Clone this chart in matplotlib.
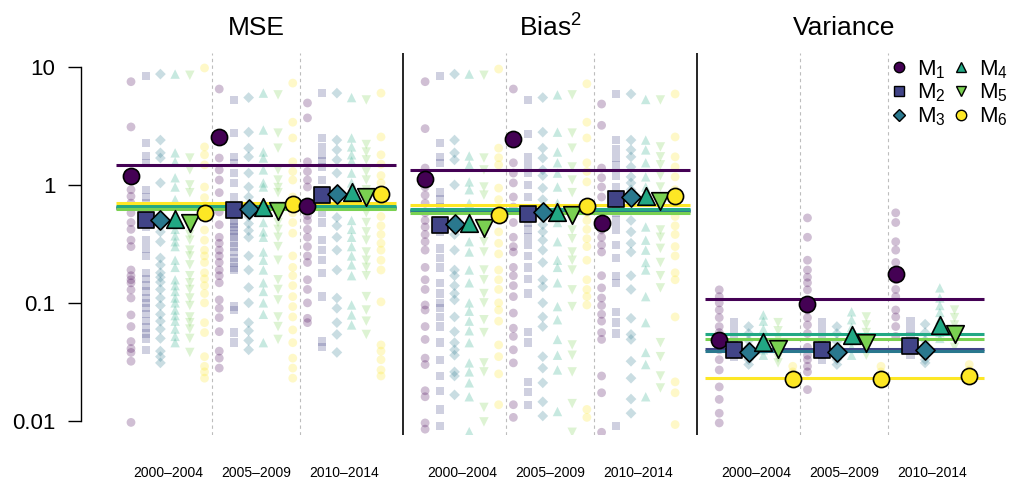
import matplotlib
matplotlib.use("Agg")
import matplotlib.pyplot as plt
from matplotlib.transforms import blended_transform_factory
from matplotlib.lines import Line2D
from matplotlib.ticker import FixedLocator, FixedFormatter, NullLocator

plt.rcParams['font.family'] = ['Liberation Sans', 'DejaVu Sans']
plt.rcParams['mathtext.fontset'] = 'custom'
plt.rcParams['mathtext.rm'] = 'Liberation Sans'
plt.rcParams['mathtext.it'] = 'Liberation Sans:italic'

methods = ["M$_1$", "M$_2$", "M$_3$", "M$_4$", "M$_5$", "M$_6$"]
colors = ["#440154", "#414487", "#2A788E", "#22A884", "#7AD151", "#FDE725"]
markers = ["o", "s", "D", "^", "v", "o"]
periods = ["2000\u20132004", "2005\u20132009", "2010\u20132014"]
panel_titles = ["MSE", "Bias$^2$", "Variance"]

# ---- individual (faint) values: [period][method] ----
mse_points = [
    [
        [7.5, 3.1, 0.91, 0.80, 0.70, 0.58, 0.48, 0.42, 0.34, 0.30, 0.19, 0.17, 0.157, 0.148, 0.129, 0.11, 0.079, 0.063, 0.047, 0.041, 0.038, 0.032, 0.0097],
        [8.4, 2.28, 1.76, 1.54, 0.9, 0.79, 0.70, 0.44, 0.34, 0.29, 0.25, 0.18, 0.16, 0.14, 0.125, 0.11, 0.10, 0.09, 0.08, 0.07, 0.062, 0.055, 0.05, 0.04],
        [8.7, 2.4, 1.87, 1.69, 1.04, 0.48, 0.40, 0.33, 0.24, 0.21, 0.18, 0.165, 0.15, 0.13, 0.11, 0.095, 0.08, 0.07, 0.06, 0.05, 0.039, 0.035, 0.031],
        [8.7, 1.87, 1.57, 1.15, 0.96, 0.75, 0.42, 0.37, 0.33, 0.30, 0.23, 0.2, 0.157, 0.14, 0.125, 0.11, 0.10, 0.087, 0.078, 0.07, 0.06, 0.052, 0.046],
        [8.5, 1.69, 1.34, 1.0, 0.86, 0.38, 0.34, 0.28, 0.25, 0.21, 0.17, 0.148, 0.13, 0.11, 0.095, 0.076, 0.068, 0.06, 0.05, 0.038],
        [9.8, 2.1, 1.8, 1.48, 0.96, 0.78, 0.415, 0.34, 0.28, 0.25, 0.22, 0.18, 0.16, 0.14, 0.12, 0.1, 0.068, 0.056, 0.035, 0.029, 0.026, 0.023],
    ],
    [
        [6.5, 1.69, 1.34, 1.1, 0.86, 0.59, 0.46, 0.36, 0.32, 0.28, 0.25, 0.22, 0.19, 0.17, 0.148, 0.106, 0.09, 0.075, 0.057, 0.039, 0.034, 0.028],
        [5.25, 2.75, 1.73, 1.53, 1.26, 1.04, 0.79, 0.5, 0.47, 0.44, 0.41, 0.38, 0.36, 0.32, 0.3, 0.27, 0.24, 0.22, 0.2, 0.19, 0.093, 0.087, 0.056, 0.046],
        [5.5, 2.8, 2.05, 1.73, 1.26, 0.96, 0.79, 0.54, 0.47, 0.41, 0.36, 0.25, 0.19, 0.135, 0.1, 0.068, 0.058, 0.048, 0.04],
        [6.0, 2.92, 1.9, 1.69, 1.34, 1.04, 0.96, 0.48, 0.4, 0.36, 0.27, 0.23, 0.19, 0.148, 0.125, 0.1, 0.08, 0.046],
        [5.8, 2.75, 2.05, 1.34, 1.1, 0.95, 0.86, 0.48, 0.42, 0.36, 0.3, 0.23, 0.157, 0.13, 0.106, 0.076, 0.063, 0.049],
        [7.3, 3.4, 2.5, 1.57, 1.3, 1.1, 0.79, 0.58, 0.48, 0.39, 0.25, 0.2, 0.17, 0.14, 0.113, 0.093, 0.076, 0.059, 0.046, 0.034, 0.028, 0.023],
    ],
    [
        [4.95, 3.7, 1.57, 1.3, 1.1, 0.96, 0.61, 0.55, 0.5, 0.42, 0.36, 0.3, 0.25, 0.22, 0.157, 0.13, 0.1, 0.074, 0.068],
        [6.0, 2.5, 2.1, 1.8, 1.6, 1.42, 1.1, 0.58, 0.48, 0.34, 0.28, 0.23, 0.18, 0.113, 0.047, 0.042],
        [6.0, 2.4, 1.98, 1.63, 1.26, 0.7, 0.53, 0.45, 0.36, 0.28, 0.19, 0.11, 0.09, 0.068, 0.054, 0.038],
        [5.5, 2.5, 2.1, 1.8, 1.6, 1.26, 1.04, 0.85, 0.75, 0.5, 0.42, 0.36, 0.3, 0.25, 0.21, 0.17, 0.096, 0.079, 0.065],
        [5.25, 2.2, 1.9, 1.63, 1.29, 1.1, 0.91, 0.58, 0.48, 0.4, 0.34, 0.27, 0.23, 0.2, 0.17, 0.113, 0.087, 0.07, 0.054],
        [6.0, 2.55, 1.8, 1.5, 1.2, 1.04, 0.79, 0.54, 0.45, 0.38, 0.32, 0.28, 0.23, 0.19, 0.102, 0.044, 0.039, 0.033, 0.027, 0.024],
    ],
]

bias_points = [
    [
        [7.5, 3.0, 1.39, 0.96, 0.82, 0.7, 0.58, 0.5, 0.44, 0.38, 0.33, 0.28, 0.2, 0.157, 0.13, 0.096, 0.087, 0.063, 0.049, 0.034, 0.03, 0.018, 0.016, 0.0096, 0.0085],
        [8.4, 2.27, 1.73, 1.54, 0.86, 0.75, 0.65, 0.4, 0.29, 0.24, 0.2, 0.148, 0.12, 0.1, 0.09, 0.076, 0.063, 0.046, 0.033, 0.024, 0.018, 0.0125, 0.009],
        [8.7, 2.4, 1.87, 1.63, 1.0, 0.38, 0.28, 0.19, 0.17, 0.14, 0.12, 0.106, 0.076, 0.057, 0.046, 0.04, 0.036, 0.026, 0.024, 0.0166],
        [8.7, 1.76, 1.48, 1.06, 0.91, 0.7, 0.33, 0.27, 0.19, 0.148, 0.1, 0.085, 0.07, 0.058, 0.046, 0.031, 0.026, 0.021, 0.016, 0.0081],
        [8.5, 1.69, 1.34, 0.96, 0.82, 0.33, 0.27, 0.19, 0.157, 0.12, 0.1, 0.072, 0.056, 0.031, 0.026, 0.013, 0.0098],
        [9.6, 2.05, 1.7, 1.48, 0.94, 0.75, 0.4, 0.32, 0.26, 0.19, 0.157, 0.13, 0.1, 0.087, 0.07, 0.044, 0.035, 0.025, 0.0137],
    ],
    [
        [6.5, 1.54, 1.26, 1.04, 0.79, 0.65, 0.48, 0.36, 0.3, 0.27, 0.2, 0.17, 0.14, 0.113, 0.082, 0.061, 0.052, 0.04, 0.031, 0.0137, 0.0107],
        [5.25, 2.7, 1.73, 1.48, 1.26, 1.0, 0.79, 0.48, 0.42, 0.36, 0.31, 0.25, 0.2, 0.16, 0.12, 0.057, 0.046, 0.0214, 0.0176, 0.0137],
        [5.5, 2.8, 2.05, 1.69, 1.34, 1.2, 0.94, 0.75, 0.53, 0.46, 0.4, 0.34, 0.28, 0.22, 0.157, 0.137, 0.1, 0.076, 0.063, 0.035, 0.028, 0.021, 0.0145, 0.011],
        [5.8, 2.8, 1.9, 1.54, 1.26, 0.96, 0.7, 0.48, 0.33, 0.23, 0.2, 0.148, 0.093, 0.072, 0.049, 0.036, 0.027, 0.012],
        [5.8, 2.75, 2.05, 1.42, 1.1, 0.86, 0.415, 0.35, 0.27, 0.23, 0.19, 0.129, 0.093, 0.044, 0.036, 0.026, 0.014, 0.008],
        [7.2, 3.4, 2.5, 1.54, 1.3, 1.06, 0.58, 0.5, 0.42, 0.35, 0.3, 0.23, 0.157, 0.13, 0.113, 0.096, 0.0125, 0.0107],
    ],
    [
        [4.85, 3.2, 1.39, 1.15, 0.96, 0.79, 0.415, 0.36, 0.31, 0.27, 0.17, 0.134, 0.11, 0.095, 0.08, 0.07, 0.056, 0.049, 0.024, 0.0173, 0.008],
        [5.9, 2.4, 2.0, 1.7, 1.48, 1.2, 0.96, 0.65, 0.58, 0.5, 0.42, 0.31, 0.24, 0.17, 0.148, 0.084, 0.068, 0.055, 0.009],
        [5.9, 2.4, 1.98, 1.73, 1.42, 1.17, 1.04, 0.91, 0.5, 0.4, 0.32, 0.27, 0.17, 0.13, 0.074, 0.054, 0.049, 0.032, 0.023, 0.0153, 0.0116],
        [5.3, 2.4, 1.98, 1.54, 1.17, 0.96, 0.44, 0.34, 0.28, 0.22, 0.19, 0.113, 0.068, 0.038, 0.03, 0.016],
        [5.25, 2.1, 1.73, 1.48, 1.2, 0.96, 0.65, 0.415, 0.36, 0.29, 0.22, 0.17, 0.134, 0.046, 0.035, 0.024, 0.019],
        [5.9, 2.55, 1.73, 1.42, 1.17, 0.91, 0.54, 0.45, 0.38, 0.3, 0.25, 0.18, 0.157, 0.076, 0.0214, 0.0173, 0.0093],
    ],
]

var_points = [
    [
        [0.129, 0.113, 0.1, 0.087, 0.075, 0.063, 0.056, 0.04, 0.033, 0.027, 0.0194, 0.0152, 0.0116, 0.0096],
        [0.068, 0.058, 0.05, 0.045, 0.04, 0.037, 0.035],
        [0.063, 0.055, 0.048, 0.042, 0.037, 0.033, 0.03],
        [0.079, 0.07, 0.06, 0.052, 0.046, 0.04, 0.036],
        [0.068, 0.058, 0.05, 0.043, 0.038, 0.034, 0.031],
        [0.029, 0.026, 0.025, 0.023, 0.021],
    ],
    [
        [0.525, 0.36, 0.23, 0.19, 0.165, 0.148, 0.129, 0.1, 0.087, 0.075, 0.065, 0.055, 0.042, 0.036, 0.033, 0.029, 0.026, 0.0184],
        [0.068, 0.058, 0.05, 0.044, 0.039, 0.036, 0.033],
        [0.063, 0.055, 0.047, 0.041, 0.036, 0.033, 0.03],
        [0.084, 0.072, 0.062, 0.055, 0.048, 0.042, 0.036],
        [0.076, 0.065, 0.056, 0.048, 0.042, 0.036],
        [0.029, 0.026, 0.024, 0.022, 0.021],
    ],
    [
        [0.58, 0.48, 0.33, 0.28, 0.22, 0.157, 0.13, 0.113, 0.087, 0.076, 0.063, 0.052],
        [0.07, 0.06, 0.052, 0.046, 0.04, 0.036],
        [0.066, 0.056, 0.048, 0.042, 0.037, 0.033, 0.031],
        [0.134, 0.11, 0.095, 0.083, 0.072, 0.063, 0.056, 0.05],
        [0.087, 0.075, 0.065, 0.056, 0.049, 0.042],
        [0.03, 0.027, 0.025, 0.023],
    ],
]

# ---- period means: [period][method] ----
mse_means = [[1.19, 0.50, 0.50, 0.515, 0.476, 0.58],
             [2.55, 0.61, 0.625, 0.65, 0.60, 0.69],
             [0.66, 0.82, 0.83, 0.87, 0.79, 0.83]]
bias_means = [[1.12, 0.46, 0.47, 0.48, 0.43, 0.56],
              [2.45, 0.57, 0.59, 0.59, 0.56, 0.66],
              [0.48, 0.76, 0.79, 0.80, 0.73, 0.80]]
var_means = [[0.048, 0.040, 0.038, 0.047, 0.041, 0.0227],
             [0.097, 0.040, 0.038, 0.053, 0.046, 0.0227],
             [0.176, 0.043, 0.040, 0.065, 0.055, 0.024]]

# ---- overall levels per method ----
mse_overall = [1.47, 0.64, 0.65, 0.66, 0.63, 0.70]
bias_overall = [1.35, 0.60, 0.61, 0.62, 0.58, 0.68]
var_overall = [0.107, 0.041, 0.039, 0.055, 0.049, 0.023]

panels_points = [mse_points, bias_points, var_points]
panels_means = [mse_means, bias_means, var_means]
panels_overall = [mse_overall, bias_overall, var_overall]

W, H = 1014, 488
fig = plt.figure(figsize=(W / 100, H / 100), dpi=100)
ax_l, ax_r, ax_t, ax_b = 81, 1010, 52.8, 435
ax = fig.add_axes([ax_l / W, 1 - ax_b / H, (ax_r - ax_l) / W, (ax_b - ax_t) / H])
ax.set_xlim(-2.4, 1 + (ax_r - 131) / 14.706)
ax.set_yscale('log')
ax.set_ylim(10 ** -2.12, 10 ** 1.12)

for s in ['top', 'right', 'bottom']:
    ax.spines[s].set_visible(False)
ax.spines['left'].set_bounds(0.01, 10)
ax.spines['left'].set_linewidth(1.0)
ax.yaxis.set_major_locator(FixedLocator([0.01, 0.1, 1, 10]))
ax.yaxis.set_major_formatter(FixedFormatter(["0.01", "0.1", "1", "10"]))
ax.yaxis.set_minor_locator(NullLocator())
ax.tick_params(axis='y', length=9.4, width=1.0, labelsize=16, pad=9)
ax.set_xticks([])

size_main = {"o": 135, "s": 120, "D": 95, "^": 160, "v": 160}
size_faint = {"o": 40, "s": 36, "D": 30, "^": 46, "v": 46}

trans_fig_y = blended_transform_factory(ax.transData, fig.transFigure)

for p in range(3):
    off = p * 20
    for xv in (off + 6.5, off + 12.5):
        ax.axvline(xv, color='#BDBDBD', lw=0.8, ls=(0, (3, 3)), zorder=1)
    if p > 0:
        ax.axvline(off - 0.5, color='black', lw=1.2, zorder=1)
    pts = panels_points[p]
    for g in range(3):
        for m in range(6):
            x = off + g * 6 + m + 1
            vals = pts[g][m]
            ax.scatter([x] * len(vals), vals, marker=markers[m], s=size_faint[markers[m]],
                       color=colors[m], alpha=0.25, edgecolors='none', zorder=2)
    for m in range(6):
        ax.hlines(panels_overall[p][m], off, off + 19, color=colors[m], lw=2.2, zorder=3)
    for g in range(3):
        for m in range(6):
            x = off + g * 6 + m + 1
            ax.scatter([x], [panels_means[p][g][m]], marker=markers[m], s=size_main[markers[m]],
                       color=colors[m], edgecolors='black', linewidths=1.2, zorder=4)
    ax.text(off + 9.5, 1 - 28 / H, panel_titles[p], transform=trans_fig_y,
            ha='center', va='center', fontsize=19)
    for g in range(3):
        ax.text(off + g * 6 + 3.5, 1 - 473 / H, periods[g], transform=trans_fig_y,
                ha='center', va='center', fontsize=10)

handles = [Line2D([], [], marker=markers[m], color='none', markerfacecolor=colors[m],
                  markeredgecolor='black', markersize=7.5 if markers[m] != 'D' else 6.5,
                  markeredgewidth=1.0, linestyle='none') for m in range(6)]
ax.legend(handles, methods, ncol=2, loc='upper right', bbox_to_anchor=(1008 / W, 1 - 58 / H),
          bbox_transform=fig.transFigure, frameon=False, fontsize=16, handlelength=0.8,
          handletextpad=0.4, columnspacing=0.3, labelspacing=0.05, borderaxespad=0, borderpad=0)

fig.savefig("out.png", dpi=100)
